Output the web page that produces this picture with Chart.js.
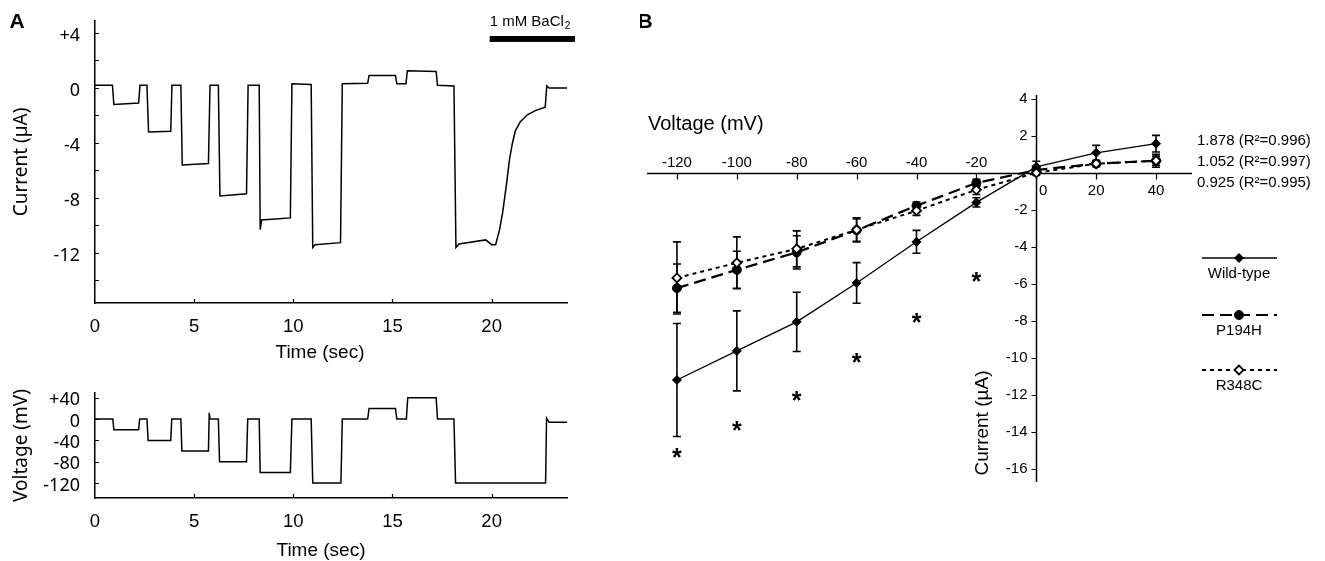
<!DOCTYPE html>
<html>
<head>
<meta charset="utf-8">
<script src="https://cdn.jsdelivr.net/npm/chart.js@4.4.0/dist/chart.umd.min.js"></script>
<style>
  html, body { margin: 0; padding: 0; background: #fff; }
  #wrap { position: relative; width: 1325px; height: 561px; overflow: hidden; }
  .box { position: absolute; }
</style>
</head>
<body>
<div id="wrap">
  <div class="box" style="left:0;top:0"><canvas id="currentChart" width="600" height="370"></canvas></div>
  <div class="box" style="left:0;top:370px"><canvas id="voltageChart" width="600" height="191"></canvas></div>
  <div class="box" style="left:640px;top:0"><canvas id="ivChart" width="685" height="561"></canvas></div>
</div>
<script>
// ---- Panel A: recorded current trace (sec, µA) ----
const traceTime = [0, 0.88, 0.95, 2.2, 2.27, 2.62, 2.7, 3.82, 3.88, 4.33, 4.4, 5.72, 5.8, 6.22, 6.3, 7.64, 7.72,
  8.28, 8.33, 8.4, 9.85, 9.93, 10.9, 10.98, 11.1, 12.38, 12.47, 13.75, 13.82, 15.15, 15.22, 15.68, 15.75,
  17.2, 17.27, 18.1, 18.2, 18.35, 19.7, 20.0, 20.2, 20.4, 20.55, 20.75, 20.9, 21.05, 21.2, 21.45, 21.8,
  22.2, 22.7, 22.78, 22.9, 23.8];
const traceCurrent = [0.2, 0.2, -1.2, -1.1, 0.2, 0.2, -3.2, -3.15, 0.2, 0.2, -5.6, -5.5, 0.2, 0.2, -7.85, -7.7, 0.2,
  0.2, -10.3, -9.6, -9.45, 0.3, 0.25, -11.6, -11.4, -11.25, 0.3, 0.35, 0.9, 0.9, 0.3, 0.3, 1.25,
  1.2, 0.2, 0.15, -11.6, -11.35, -11.05, -11.4, -11.4, -10.3, -9.1, -7.0, -5.2, -4.0, -3.1, -2.45, -1.95,
  -1.65, -1.4, 0.15, 0.0, 0.0];

// ---- Panel A: voltage protocol (sec, mV) ----
const stepTime = [0, 0.9, 0.95, 2.2, 2.25, 2.62, 2.68, 3.82, 3.87, 4.33, 4.38, 5.72, 5.76, 5.8, 6.22, 6.28, 7.64,
  7.7, 8.28, 8.33, 9.85, 9.93, 10.9, 10.98, 12.4, 12.47, 13.75, 13.82, 15.15, 15.22, 15.7, 15.77, 17.2,
  17.27, 18.1, 18.18, 22.72, 22.77, 22.9, 23.8];
const stepVoltage = [0, 0, -20, -20, 0, 0, -40, -40, 0, 0, -60, -60, 12, 0, 0, -80, -80,
  0, 0, -100, -100, 0, 0, -120, -120, 0, 0, 20, 20, 0, 0, 40, 40,
  0, 0, -120, -120, 2, -6, -6];

const timeTicks = [0, 5, 10, 15, 20];
const currentTicks = [4, 0, -4, -8, -12];
const currentMinor = [4, 2, 0, -2, -4, -6, -8, -10, -12, -14];
const voltageTicks = [40, 0, -40, -80, -120];

// ---- Panel B: I-V relationship ----
const voltages = [-120, -100, -80, -60, -40, -20, 0, 20, 40];
const wildType = [-11.19, -9.62, -8.05, -5.95, -3.73, -1.6, 0.32, 1.08, 1.57];
const wildTypeErr = [3.05, 2.16, 1.6, 1.1, 0.62, 0.25, 0.3, 0.4, 0.45];
const p194h = [-6.23, -5.24, -4.3, -3.1, -1.78, -0.55, 0.15, 0.49, 0.65];
const p194hErr = [1.3, 1.0, 0.9, 0.6, 0.2, 0.2, 0.2, 0.15, 0.25];
const r348c = [-5.68, -4.86, -4.11, -3.08, -2.05, -0.92, 0.0, 0.49, 0.65];
const r348cErr = [1.95, 1.4, 0.97, 0.65, 0.25, 0.25, 0.15, 0.15, 0.35];
const starVoltages = [-120, -100, -80, -60, -40, -20];
const starLevels = [-15.1, -13.6, -12.0, -9.95, -7.8, -5.6];
const ivXTicks = [-120, -100, -80, -60, -40, -20, 0, 20, 40];
const ivYTicks = [4, 2, 0, -2, -4, -6, -8, -10, -12, -14, -16];
const slopeTexts = ['1.878 (R²=0.996)', '1.052 (R²=0.997)', '0.925 (R²=0.995)'];
const seriesNames = ['Wild-type', 'P194H', 'R348C'];

const ARIAL = '"Liberation Sans", Arial, sans-serif';
const MYRIAD = '"Noto Sans", sans-serif';
Chart.defaults.font.family = ARIAL;
Chart.defaults.color = '#000';

function pairs(xs, ys) {
  return xs.map((x, i) => ({ x: x, y: ys[i] }));
}

// small inward tick marks, x title and extras for panel A
const innerTicks = {
  id: 'innerTicks',
  afterDraw(chart, args, opts) {
    const { ctx, chartArea, scales: { x, y } } = chart;
    ctx.save();
    ctx.strokeStyle = '#000';
    ctx.lineWidth = 1.2;
    ctx.beginPath();
    opts.yValues.forEach(v => {
      const py = Math.round(y.getPixelForValue(v)) + 0.5;
      ctx.moveTo(chartArea.left, py);
      ctx.lineTo(chartArea.left + 4, py);
    });
    opts.xValues.forEach(v => {
      const px = Math.round(x.getPixelForValue(v)) + 0.5;
      ctx.moveTo(px, chartArea.bottom);
      ctx.lineTo(px, chartArea.bottom - 4);
    });
    ctx.stroke();
    ctx.fillStyle = '#000';
    ctx.textAlign = 'center';
    ctx.textBaseline = 'middle';
    ctx.font = '19px ' + ARIAL;
    ctx.fillText(opts.xTitle, opts.xTitlePos[0], opts.xTitlePos[1]);
    if (opts.panel) {
      ctx.font = 'bold 21px ' + ARIAL;
      ctx.fillText(opts.panel, 17, 22);
    }
    if (opts.drug) {
      // 1 mM BaCl2 application bar
      const x1 = x.getPixelForValue(19.9), x2 = x.getPixelForValue(24.2);
      const y1 = y.getPixelForValue(3.78), y2 = y.getPixelForValue(3.35);
      ctx.fillRect(x1, y1, x2 - x1, y2 - y1);
      ctx.textAlign = 'left';
      ctx.textBaseline = 'alphabetic';
      ctx.font = '15px ' + ARIAL;
      ctx.fillText('1 mM BaCl', x1, 26);
      const w = ctx.measureText('1 mM BaCl').width;
      ctx.font = '10px ' + ARIAL;
      ctx.fillText('2', x1 + w + 1, 29);
    }
    ctx.restore();
  }
};

function traceOptions(cfg) {
  return {
    responsive: false,
    animation: false,
    devicePixelRatio: 1,
    layout: { padding: { top: cfg.top, right: 33, left: 0, bottom: 0 } },
    elements: { point: { radius: 0 }, line: { borderWidth: 1.5, tension: 0 } },
    plugins: {
      legend: { display: false },
      tooltip: { enabled: false },
      innerTicks: cfg.inner
    },
    scales: {
      x: {
        type: 'linear', min: 0, max: 23.8,
        afterBuildTicks: s => { s.ticks = timeTicks.map(v => ({ value: v })); },
        afterFit: s => { s.height = cfg.xHeight; },
        grid: { display: false },
        border: { color: '#000', width: 1.5 },
        ticks: { color: '#000', padding: 5, maxRotation: 0, font: { family: ARIAL, size: 18.5 } }
      },
      y: {
        min: cfg.yMin, max: cfg.yMax,
        afterBuildTicks: s => { s.ticks = cfg.yTicks.map(v => ({ value: v })); },
        afterFit: s => { s.width = 95; },
        // invisible tick marks only push the labels away from the axis
        grid: { drawOnChartArea: false, drawTicks: true, tickLength: 15, color: 'rgba(0,0,0,0)' },
        border: { color: '#000', width: 1.5 },
        ticks: {
          color: '#000', padding: 0, labelOffset: 2.5, font: { family: MYRIAD, size: 18 },
          callback: v => (v > 0 ? '+' + v : String(v))
        },
        title: {
          display: true, text: cfg.yTitle, color: '#000',
          font: { family: MYRIAD, size: 19 }, padding: { top: 10, bottom: 0 }
        }
      }
    }
  };
}

new Chart(document.getElementById('currentChart'), {
  type: 'line',
  data: {
    datasets: [{ data: pairs(traceTime, traceCurrent), borderColor: '#000' }]
  },
  options: traceOptions({
    top: 21, xHeight: 67, yMin: -15.64, yMax: 4.87, yTicks: currentTicks, yTitle: 'Current (µA)',
    inner: { yValues: currentMinor, xValues: [5, 10, 15, 20], xTitle: 'Time (sec)', xTitlePos: [320, 353], panel: 'A', drug: true }
  }),
  plugins: [innerTicks]
});

new Chart(document.getElementById('voltageChart'), {
  type: 'line',
  data: {
    datasets: [{ data: pairs(stepTime, stepVoltage), borderColor: '#000' }]
  },
  options: traceOptions({
    top: 23, xHeight: 63, yMin: -148, yMax: 49, yTicks: voltageTicks, yTitle: 'Voltage (mV)',
    inner: { yValues: voltageTicks, xValues: [5, 10, 15, 20], xTitle: 'Time (sec)', xTitlePos: [321, 181] }
  }),
  plugins: [innerTicks]
});

// ---- Panel B plugins ----
const ivAxes = {
  id: 'ivAxes',
  beforeDatasetsDraw(chart) {
    const { ctx, chartArea: a, scales: { x, y } } = chart;
    const x0 = Math.round(x.getPixelForValue(0)) + 0.5;
    const y0 = Math.round(y.getPixelForValue(0)) + 0.5;
    ctx.save();
    ctx.strokeStyle = '#000';
    ctx.lineWidth = 1.5;
    ctx.beginPath();
    ctx.moveTo(a.left, y0); ctx.lineTo(a.right, y0);
    ctx.moveTo(x0, a.top); ctx.lineTo(x0, a.bottom);
    ctx.stroke();
    ctx.lineWidth = 1.2;
    ctx.beginPath();
    ivXTicks.forEach(v => {
      const px = Math.round(x.getPixelForValue(v)) + 0.5;
      ctx.moveTo(px, y0); ctx.lineTo(px, y0 + 6);
    });
    ivYTicks.forEach(v => {
      const py = Math.round(y.getPixelForValue(v)) + 0.5;
      ctx.moveTo(x0 - 5, py); ctx.lineTo(x0, py);
    });
    ctx.stroke();
    ctx.fillStyle = '#000';
    ctx.font = '15px ' + ARIAL;
    ctx.textAlign = 'center';
    ctx.textBaseline = 'middle';
    ivXTicks.forEach(v => {
      const px = x.getPixelForValue(v);
      if (v < 0) ctx.fillText(String(v), px, y0 - 11);
      else ctx.fillText(String(v), v === 0 ? px + 7 : px, y0 + 17);
    });
    ctx.textAlign = 'right';
    ivYTicks.forEach(v => {
      if (v !== 0) ctx.fillText(String(v), x0 - 9, y.getPixelForValue(v));
    });
    // titles
    ctx.textAlign = 'left';
    ctx.font = '20px ' + ARIAL;
    ctx.fillText('Voltage (mV)', 8, 124);
    ctx.save();
    ctx.translate(343, 423);
    ctx.rotate(-Math.PI / 2);
    ctx.textAlign = 'center';
    ctx.font = '19px ' + ARIAL;
    ctx.fillText('Current (µA)', 0, 0);
    ctx.restore();
    ctx.font = 'bold 21px ' + ARIAL;
    ctx.textAlign = 'center';
    ctx.fillText('B', 5, 22);
    // error bars
    ctx.lineWidth = 1.6;
    chart.data.datasets.forEach((ds, i) => {
      if (!ds.errors) return;
      const meta = chart.getDatasetMeta(i);
      ctx.beginPath();
      meta.data.forEach((pt, j) => {
        const top = y.getPixelForValue(ds.data[j].y + ds.errors[j]);
        const bot = y.getPixelForValue(ds.data[j].y - ds.errors[j]);
        ctx.moveTo(pt.x, top); ctx.lineTo(pt.x, bot);
        ctx.moveTo(pt.x - 4, top); ctx.lineTo(pt.x + 4, top);
        ctx.moveTo(pt.x - 4, bot); ctx.lineTo(pt.x + 4, bot);
      });
      ctx.stroke();
    });
    ctx.restore();
  },
  afterDatasetsDraw(chart) {
    const { ctx } = chart;
    ctx.save();
    ctx.fillStyle = '#000';
    // significance asterisks
    chart.data.datasets.forEach((ds, i) => {
      if (!ds.stars) return;
      ctx.font = 'bold 25px ' + ARIAL;
      ctx.textAlign = 'center';
      ctx.textBaseline = 'alphabetic';
      chart.getDatasetMeta(i).data.forEach(pt => ctx.fillText('*', pt.x, pt.y + 14));
    });
    // slope labels
    ctx.font = '15px ' + ARIAL;
    ctx.textAlign = 'left';
    ctx.textBaseline = 'middle';
    slopeTexts.forEach((t, i) => ctx.fillText(t, 557, 141 + i * 21));
    // legend: line sample with marker, name below
    const legendY = [258, 315, 370];
    seriesNames.forEach((name, k) => {
      const ds = chart.data.datasets.find(d => d.label === name);
      const ly = legendY[k];
      ctx.save();
      ctx.strokeStyle = '#000';
      ctx.lineWidth = ds.borderWidth;
      ctx.setLineDash(ds.borderDash || []);
      ctx.beginPath();
      ctx.moveTo(562, ly); ctx.lineTo(637, ly);
      ctx.stroke();
      ctx.setLineDash([]);
      ctx.fillStyle = ds.pointBackgroundColor;
      ctx.strokeStyle = '#000';
      ctx.lineWidth = ds.pointBorderWidth;
      Chart.helpers.drawPoint(ctx, { pointStyle: ds.pointStyle, radius: ds.pointRadius, rotation: 0, borderWidth: ds.pointBorderWidth }, 599, ly);
      ctx.restore();
      ctx.fillStyle = '#000';
      ctx.textAlign = 'center';
      ctx.fillText(name, 599, ly + 16);
    });
    ctx.restore();
  }
};

new Chart(document.getElementById('ivChart'), {
  type: 'line',
  data: {
    datasets: [
      {
        label: 'R348C', data: pairs(voltages, r348c), errors: r348cErr,
        borderColor: '#000', borderWidth: 2, borderDash: [4, 4],
        pointStyle: 'rectRot', pointRadius: 4.5, pointBackgroundColor: '#fff',
        pointBorderColor: '#000', pointBorderWidth: 1.8
      },
      {
        label: 'P194H', data: pairs(voltages, p194h), errors: p194hErr,
        borderColor: '#000', borderWidth: 2.2, borderDash: [12, 6],
        pointStyle: 'circle', pointRadius: 4.5, pointBackgroundColor: '#000',
        pointBorderColor: '#000', pointBorderWidth: 1
      },
      {
        label: 'Wild-type', data: pairs(voltages, wildType), errors: wildTypeErr,
        borderColor: '#000', borderWidth: 1.3,
        pointStyle: 'rectRot', pointRadius: 4.5, pointBackgroundColor: '#000',
        pointBorderColor: '#000', pointBorderWidth: 1
      },
      {
        label: 'stars', data: pairs(starVoltages, starLevels), stars: true,
        showLine: false, pointRadius: 0, borderWidth: 0
      }
    ]
  },
  options: {
    responsive: false,
    animation: false,
    devicePixelRatio: 1,
    layout: { padding: { left: 7, right: 133, top: 95, bottom: 79 } },
    elements: { line: { tension: 0 } },
    plugins: { legend: { display: false }, tooltip: { enabled: false } },
    scales: {
      x: { type: 'linear', min: -130, max: 52, display: false },
      y: { type: 'linear', min: -16.7, max: 4.2, display: false }
    }
  },
  plugins: [ivAxes]
});
</script>
</body>
</html>
